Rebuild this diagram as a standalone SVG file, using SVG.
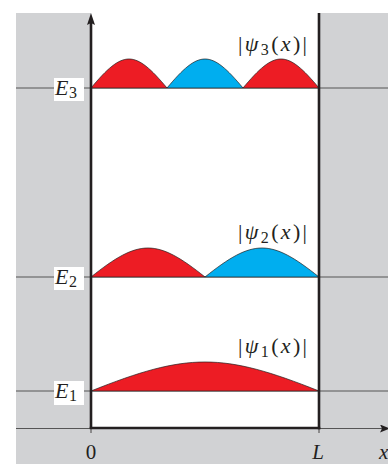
<svg xmlns="http://www.w3.org/2000/svg" width="388" height="464" viewBox="0 0 388 464">
<style>
.lvl{stroke:#555;stroke-width:1;fill:none}
.red{fill:#ED1C24;stroke:#231F20;stroke-width:0.7}
.blue{fill:#00AEEF;stroke:#231F20;stroke-width:0.7}
.wall{stroke:#231F20;stroke-width:2.6;fill:none}
.t{font-family:"Liberation Serif",serif;fill:#231F20}
.it{font-style:italic}
.box{fill:#fff}
</style>
<defs>
<marker id="ah" viewBox="0 0 10 8" refX="10" refY="4" markerWidth="10" markerHeight="8" markerUnits="userSpaceOnUse" orient="auto">
<path d="M0,0 L10,4 L0,8 L2,4 Z" fill="#231F20"/>
</marker>
</defs>
<g id="background">
<rect x="16" y="13" width="372" height="451" fill="#D1D2D4"/>
<rect x="91" y="13" width="228" height="415" fill="#fff"/>
</g>
<g id="connectors">
<line class="lvl" x1="16" y1="88" x2="388" y2="88"/>
<line class="lvl" x1="16" y1="277" x2="388" y2="277"/>
<line class="lvl" x1="16" y1="391" x2="388" y2="391"/>
<line x1="16" y1="428.5" x2="390" y2="428.5" stroke="#555" stroke-width="1" marker-end="url(#ah)"/>
<line x1="91" y1="428" x2="91" y2="433" stroke="#231F20" stroke-width="0.8"/>
<line x1="319" y1="428" x2="319" y2="433" stroke="#231F20" stroke-width="0.8"/>
</g>
<g id="wave3">
<path class="red" d="M91,88 C123.25,49.33 134.75,49.33 167,88 Z"/>
<path class="blue" d="M167,88 C199.25,49.33 210.75,49.33 243,88 Z"/>
<path class="red" d="M243,88 C275.25,49.33 286.75,49.33 319,88 Z"/>
<text class="t" x="238" y="51" font-size="22" textLength="69" lengthAdjust="spacing">|<tspan class="it">ψ</tspan><tspan font-size="16" dy="4">3</tspan><tspan dy="-4">(</tspan><tspan class="it">x</tspan>)|</text>
</g>
<g id="wave2">
<path class="red" d="M91,277 C139.38,238.33 156.62,238.33 205,277 Z"/>
<path class="blue" d="M205,277 C253.38,238.33 270.62,238.33 319,277 Z"/>
<text class="t" x="238" y="239" font-size="22" textLength="69" lengthAdjust="spacing">|<tspan class="it">ψ</tspan><tspan font-size="16" dy="4">2</tspan><tspan dy="-4">(</tspan><tspan class="it">x</tspan>)|</text>
</g>
<g id="wave1">
<path class="red" d="M91,391 C187.76,352.33 222.24,352.33 319,391 Z"/>
<text class="t" x="238" y="353" font-size="22" textLength="69" lengthAdjust="spacing">|<tspan class="it">ψ</tspan><tspan font-size="16" dy="4">1</tspan><tspan dy="-4">(</tspan><tspan class="it">x</tspan>)|</text>
</g>
<g id="walls">
<line class="wall" x1="91" y1="428" x2="91" y2="22"/>
<path d="M91,13 L95,25 L91,23 L87,25 Z" fill="#231F20"/>
<line class="wall" x1="319" y1="13" x2="319" y2="429.3"/>
<line class="wall" x1="89.7" y1="428" x2="320.3" y2="428"/>
</g>
<g id="E3">
<rect class="box" x="54" y="78" width="30" height="23"/>
<text class="t" x="55" y="95" font-size="22"><tspan class="it">E</tspan><tspan font-size="16" x="69" dy="3">3</tspan></text>
</g>
<g id="E2">
<rect class="box" x="54" y="267" width="30" height="23"/>
<text class="t" x="55" y="284" font-size="22"><tspan class="it">E</tspan><tspan font-size="16" x="69" dy="3">2</tspan></text>
</g>
<g id="E1">
<rect class="box" x="54" y="381" width="30" height="24"/>
<text class="t" x="55" y="398" font-size="22"><tspan class="it">E</tspan><tspan font-size="16" x="69" dy="3">1</tspan></text>
</g>
<g id="axisLabels">
<text class="t" x="91" y="459" font-size="21" text-anchor="middle">0</text>
<text class="t it" x="318" y="459" font-size="21" text-anchor="middle">L</text>
<text class="t it" x="379" y="459" font-size="21">x</text>
</g>
</svg>
